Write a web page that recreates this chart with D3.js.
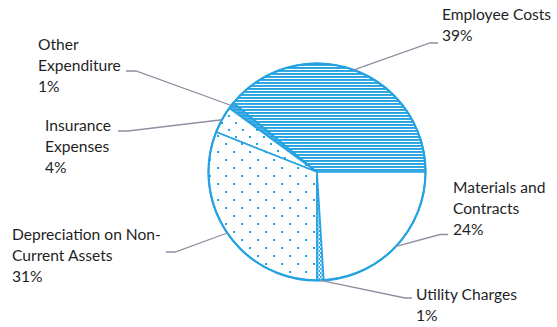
<!DOCTYPE html>
<html>
<head>
<meta charset="utf-8">
<script src="https://cdn.jsdelivr.net/npm/d3@7"></script>
<style>
  html, body { margin: 0; padding: 0; background: #ffffff; }
  svg { display: block; }
  text { font-family: Lato, "Open Sans", sans-serif; fill: #1f1f26; }
</style>
</head>
<body>
<svg id="chart" width="557" height="327"></svg>
<script>
// ---- data ----
const categories = ["Employee Costs", "Other Expenditure", "Insurance Expenses",
  "Depreciation on Non-Current Assets", "Utility Charges", "Materials and Contracts"];
const values = [39, 1, 4, 31, 1, 24];
const labelLines = [
  ["Employee Costs", "39%"],
  ["Other", "Expenditure", "1%"],
  ["Insurance", "Expenses", "4%"],
  ["Depreciation on Non-", "Current Assets", "31%"],
  ["Utility Charges", "1%"],
  ["Materials and", "Contracts", "24%"]
];

// ---- layout ----
const W = 557, H = 327;
const cx = 317, cy = 172, R = 108.5;
const blue = "#25a2e2";
const leaderColor = "#8c90a0";
// label anchor: x of text, baseline y of first line, elbow point, end of horizontal tick
const labelLayout = [
  { tx: 442, ty: 20, elbow: [430, 43], tick: [438, 43] },
  { tx: 38, ty: 50, elbow: [136, 71], tick: [126, 71] },
  { tx: 45, ty: 131, elbow: [128, 131], tick: [118, 131] },
  { tx: 12, ty: 240, elbow: [175, 252], tick: [166, 252] },
  { tx: 416, ty: 300, elbow: [405, 298], tick: [412, 298] },
  { tx: 453, ty: 193, elbow: [440, 234.5], tick: [448, 234.5] }
];
const lineGap = 21;

const svg = d3.select("#chart");
const defs = svg.append("defs");

// patterns
const pH = defs.append("pattern").attr("id", "pHoriz")
  .attr("patternUnits", "userSpaceOnUse").attr("width", 6).attr("height", 3);
pH.append("rect").attr("width", 6).attr("height", 3).attr("fill", "#ffffff");
pH.append("rect").attr("y", 0).attr("width", 6).attr("height", 1.9).attr("fill", blue);

const pSolid = defs.append("pattern").attr("id", "pSolid")
  .attr("patternUnits", "userSpaceOnUse").attr("width", 3).attr("height", 3);
pSolid.append("rect").attr("width", 3).attr("height", 3).attr("fill", "#4fb2e6");
pSolid.append("rect").attr("width", 3).attr("height", 1.5).attr("fill", blue);

const pDots = defs.append("pattern").attr("id", "pDots")
  .attr("patternUnits", "userSpaceOnUse").attr("width", 16).attr("height", 16)
  .attr("x", 3).attr("y", 2);
pDots.append("rect").attr("width", 16).attr("height", 16).attr("fill", "#ffffff");
pDots.append("rect").attr("x", 1).attr("y", 1).attr("width", 2).attr("height", 2).attr("fill", blue);
pDots.append("rect").attr("x", 9).attr("y", 9).attr("width", 2).attr("height", 2).attr("fill", blue);

const pDots2 = defs.append("pattern").attr("id", "pDots2")
  .attr("patternUnits", "userSpaceOnUse").attr("width", 14).attr("height", 14)
  .attr("x", 1).attr("y", 5);
pDots2.append("rect").attr("width", 14).attr("height", 14).attr("fill", "#ffffff");
pDots2.append("rect").attr("x", 1).attr("y", 1).attr("width", 2).attr("height", 2).attr("fill", blue);
pDots2.append("rect").attr("x", 8).attr("y", 8).attr("width", 2).attr("height", 2).attr("fill", blue);

const pSmall = defs.append("pattern").attr("id", "pSmall")
  .attr("patternUnits", "userSpaceOnUse").attr("width", 3).attr("height", 4);
pSmall.append("rect").attr("width", 3).attr("height", 4).attr("fill", "#ffffff");
pSmall.append("rect").attr("x", 0).attr("y", 0).attr("width", 1.5).attr("height", 2).attr("fill", blue);
pSmall.append("rect").attr("x", 1.5).attr("y", 2).attr("width", 1.5).attr("height", 2).attr("fill", blue);

const fills = ["url(#pHoriz)", "url(#pSolid)", "url(#pDots2)", "url(#pDots)", "url(#pSmall)", "#ffffff"];

// pie: start at 3 o'clock, go counter-clockwise
const pie = d3.pie().sort(null).value(d => d)
  .startAngle(Math.PI / 2).endAngle(Math.PI / 2 - 2 * Math.PI);
const arcs = pie(values);
const arc = d3.arc().innerRadius(0).outerRadius(R);
const edgeArc = d3.arc().innerRadius(R).outerRadius(R);

const g = svg.append("g").attr("transform", `translate(${cx},${cy})`);

// leader lines (under the pie)
const leaders = svg.append("g");
arcs.forEach((a, i) => {
  const c = edgeArc.centroid(a);
  const L = labelLayout[i];
  leaders.append("polyline")
    .attr("points", [[cx + c[0], cy + c[1]], L.elbow, L.tick].map(p => p.join(",")).join(" "))
    .attr("fill", "none").attr("stroke", leaderColor).attr("stroke-width", 1.3);
});

g.selectAll("path.slice").data(arcs).join("path")
  .attr("class", "slice")
  .attr("d", arc)
  .attr("fill", (d, i) => fills[i])
  .attr("stroke", blue).attr("stroke-width", 1.6).attr("stroke-linejoin", "round");

g.append("circle").attr("r", R).attr("fill", "none")
  .attr("stroke", blue).attr("stroke-width", 2.2);

// labels
const labels = svg.append("g");
labelLines.forEach((lines, i) => {
  const L = labelLayout[i];
  const t = labels.append("text").attr("x", L.tx).attr("y", L.ty)
    .attr("font-size", 15.6);
  lines.forEach((s, k) => {
    t.append("tspan").attr("x", L.tx).attr("dy", k === 0 ? 0 : lineGap).text(s);
  });
});
</script>
</body>
</html>
